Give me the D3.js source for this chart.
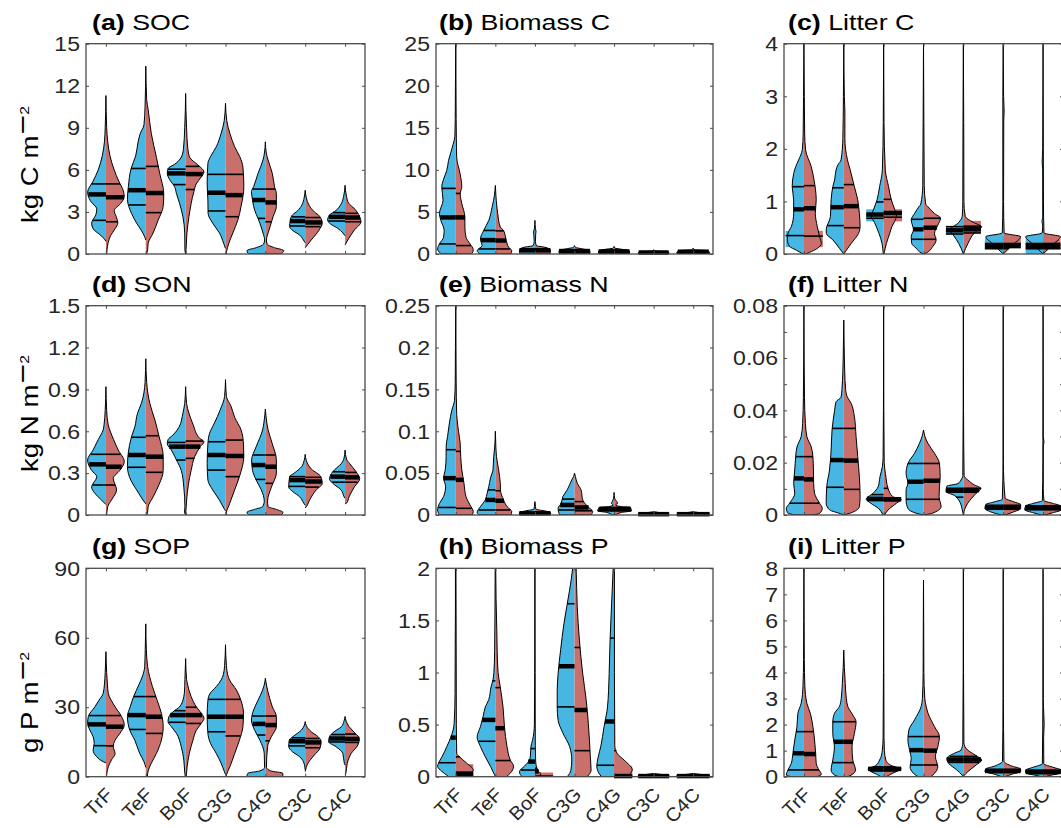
<!DOCTYPE html>
<html>
<head>
<meta charset="utf-8">
<script src="https://cdn.jsdelivr.net/npm/d3@7"></script>
<style>
  body { margin: 0; background: #fff; }
  text { font-family: "Liberation Sans", Arial, sans-serif; }
</style>
</head>
<body>
<div id="chart"></div>
<script>
// categories and panel text
const categories = ["TrF", "TeF", "BoF", "C3G", "C4G", "C3C", "C4C"];
const panelTitles = ["SOC", "Biomass C", "Litter C", "SON", "Biomass N", "Litter N", "SOP", "Biomass P", "Litter P"];
const panelLetters = ["(a)", "(b)", "(c)", "(d)", "(e)", "(f)", "(g)", "(h)", "(i)"];
const rowLabels = ["kg C m", "kg N m", "g P m"];

// y tick values for each panel
const socTicks = [0, 3, 6, 9, 12, 15];
const bioCTicks = [0, 5, 10, 15, 20, 25];
const litCTicks = [0, 1, 2, 3, 4];
const sonTicks = [0, 0.3, 0.6, 0.9, 1.2, 1.5];
const bioNTicks = [0, 0.05, 0.1, 0.15, 0.2, 0.25];
const litNTicks = [0, 0.02, 0.04, 0.06, 0.08];
const litNMinor = [0.01, 0.03, 0.05, 0.07];
const sopTicks = [0, 30, 60, 90];
const bioPTicks = [0, 0.5, 1, 1.5, 2];
const litPTicks = [0, 1, 2, 3, 4, 5, 6, 7, 8];

// violin profiles: [value, relative density] per category, left (blue) and right (red) halves
// quartiles: [q1, median, q3]

// (a) SOC
const socBlue = [
  [[11.3,0],[9,0.04],[8,0.08],[7,0.2],[6,0.42],[5.2,0.7],[4.4,1.0],[3.8,0.85],[3.2,0.5],[2.8,0.55],[2.2,0.78],[1.8,0.7],[1.4,0.35],[1.1,0.1],[0.9,0]],
  [[13.4,0],[10.5,0.04],[9.2,0.1],[8.6,0.3],[8.0,0.42],[7.0,0.55],[6.1,0.8],[4.8,0.95],[3.9,1.0],[2.9,0.78],[2.2,0.5],[1.7,0.25],[1.2,0.05],[1.0,0]],
  [[11.45,0],[9,0.05],[7.5,0.12],[6.9,0.24],[6.4,0.6],[6.1,0.96],[5.75,1.0],[5.3,0.87],[4.8,0.6],[4.3,0.5],[3.6,0.33],[2.66,0.15],[1.5,0.05],[0.3,0.04],[0,0]],
  [[10.75,0],[9.5,0.07],[8.6,0.24],[7.65,0.5],[6.94,0.82],[6.47,0.96],[5.0,1.0],[3.85,0.96],[2.9,0.95],[2.2,0.7],[1.5,0.33],[0.76,0.1],[0.4,0]],
  [[8.0,0],[7.2,0.05],[6.7,0.13],[5.75,0.4],[4.8,0.64],[4.45,0.76],[3.85,0.7],[3.1,0.58],[2.54,0.4],[2.2,0.3],[1.5,0.13],[1.0,0.04],[0.7,0.1],[0.45,0.5],[0.25,1.0],[0.05,0.95],[0,0.9]],
  [[4.55,0],[4.0,0.06],[3.5,0.18],[3.1,0.4],[2.78,0.7],[2.4,0.82],[1.95,0.85],[1.7,0.7],[1.35,0.3],[1.0,0.1],[0.8,0]],
  [[4.9,0],[4.1,0.08],[3.6,0.2],[3.1,0.5],[2.78,0.85],[2.42,0.95],[2.2,0.85],[1.83,0.4],[1.5,0.12],[1.3,0]]
];
const socRed = [
  [[11.3,0],[9,0.04],[8,0.1],[7,0.22],[6,0.45],[5.2,0.7],[4.5,0.95],[4.1,1.0],[3.6,0.8],[3.1,0.45],[2.7,0.55],[2.2,0.65],[1.8,0.5],[1.3,0.25],[0.8,0.12],[0.3,0.06],[0,0.04]],
  [[13.4,0],[11,0.05],[10.3,0.13],[8.6,0.3],[6.9,0.58],[5.75,0.76],[4.3,0.98],[3.4,0.95],[2.4,0.67],[1.5,0.4],[0.76,0.13],[0.3,0.1],[0,0.04]],
  [[11.45,0],[9,0.05],[7.5,0.12],[6.9,0.22],[6.35,0.67],[6.0,0.95],[5.85,1.0],[5.5,0.85],[5.0,0.58],[4.45,0.45],[3.6,0.3],[2.66,0.18],[1.5,0.07],[0.5,0.03],[0,0]],
  [[10.75,0],[9.5,0.07],[8.6,0.24],[7.65,0.5],[6.94,0.78],[6.2,0.95],[4.8,1.0],[3.4,0.85],[2.4,0.67],[1.5,0.4],[0.76,0.18],[0.2,0.06],[0,0.03]],
  [[8.0,0],[7.2,0.05],[6.7,0.15],[5.75,0.38],[4.8,0.5],[4.3,0.6],[3.4,0.6],[2.66,0.42],[1.7,0.2],[1.0,0.06],[0.7,0.1],[0.45,0.5],[0.25,1.0],[0.05,0.9],[0,0.85]],
  [[4.55,0],[4.0,0.06],[3.5,0.2],[3.0,0.5],[2.7,0.78],[2.2,0.93],[1.7,0.75],[1.0,0.33],[0.7,0.15],[0.45,0]],
  [[4.9,0],[4.1,0.08],[3.6,0.2],[3.35,0.42],[2.65,0.8],[2.3,0.87],[1.7,0.5],[1.0,0.15],[0.65,0]]
];
const socQBlue = [[2.4,4.25,5.0],[3.5,4.55,6.1],[4.95,5.75,6.05],[3.07,4.37,5.68],[2.54,3.85,4.63],[2.0,2.35,2.65],[2.35,2.65,2.95]];
const socQRed = [[2.3,4.05,5.0],[2.95,4.35,6.25],[4.6,5.7,6.25],[2.66,4.2,5.68],[2.3,3.68,4.63],[1.95,2.25,2.6],[2.3,2.6,2.9]];

// (b) Biomass C
const bioCBlue = [
  [[25,0],[20,0.02],[16,0.03],[14,0.05],[13,0.15],[11.1,0.4],[9.9,0.5],[8.9,0.67],[7.95,0.77],[6.4,0.7],[4.8,0.9],[4.0,0.82],[2.8,0.64],[2.0,0.67],[1.2,0.9],[0.6,1.0],[0.1,0.85],[0,0.8]],
  [[8.15,0],[7,0.05],[6.36,0.1],[5.56,0.18],[4.0,0.36],[2.8,0.64],[1.8,0.82],[1.0,0.73],[0.4,1.0],[0,0.85]],
  [[4.0,0],[3.0,0.03],[2.6,0.08],[2.3,0.06],[1.5,0.04],[1.0,0.1],[0.8,0.6],[0.5,0.85],[0.2,0.85],[0,0.8]],
  [[1.0,0],[0.8,0.05],[0.6,0.5],[0.4,0.85],[0.1,0.85],[0,0.8]],
  [[0.9,0],[0.7,0.05],[0.55,0.5],[0.35,0.85],[0.1,0.85],[0,0.8]],
  [[0.5,0],[0.35,0.1],[0.25,0.8],[0.1,0.85],[0,0.8]],
  [[0.7,0],[0.5,0.1],[0.4,0.8],[0.15,0.9],[0,0.85]]
];
const bioCRed = [
  [[25,0],[16,0.02],[11.5,0.05],[9.5,0.24],[8.0,0.33],[7.15,0.24],[6.0,0.33],[4.4,0.5],[3.2,0.5],[2.0,0.56],[1.2,0.78],[0.5,0.96],[0.1,0.9],[0,0.85]],
  [[8.15,0],[7,0.03],[6.36,0.05],[4.8,0.13],[3.2,0.27],[2.8,0.45],[1.6,0.6],[0.8,0.73],[0.4,0.9],[0,0.85]],
  [[4.0,0],[3.0,0.03],[2.7,0.06],[2.3,0.04],[1.5,0.03],[1.0,0.08],[0.8,0.55],[0.5,0.85],[0.2,0.85],[0,0.8]],
  [[1.0,0],[0.8,0.05],[0.6,0.45],[0.4,0.85],[0.1,0.85],[0,0.8]],
  [[0.9,0],[0.7,0.05],[0.55,0.45],[0.35,0.85],[0.1,0.85],[0,0.8]],
  [[0.5,0],[0.35,0.1],[0.25,0.8],[0.1,0.85],[0,0.8]],
  [[0.7,0],[0.5,0.1],[0.4,0.8],[0.15,0.9],[0,0.85]]
];
const bioCQBlue = [[1.2,4.35,7.8],[0.6,1.65,2.8],[0.3,0.45,0.6],[0.2,0.35,0.5],[0.2,0.3,0.45],[0.1,0.18,0.25],[0.15,0.27,0.38]];
const bioCQRed = [[1.0,4.35,7.2],[0.6,1.6,2.75],[0.3,0.45,0.6],[0.2,0.35,0.5],[0.2,0.3,0.45],[0.1,0.18,0.25],[0.15,0.27,0.38]];

// (c) Litter C
const litCBlue = [
  [[4,0],[3,0.02],[2.3,0.04],[1.98,0.09],[1.79,0.29],[1.66,0.45],[1.53,0.56],[1.28,0.64],[1.03,0.56],[0.77,0.56],[0.52,0.69],[0.39,0.87],[0.27,0.9],[0.15,0.8],[0.07,0.4],[0,0.05]],
  [[4,0],[3,0.02],[2.2,0.05],[1.79,0.15],[1.69,0.33],[1.6,0.42],[1.41,0.5],[1.28,0.6],[1.03,0.69],[0.71,0.73],[0.46,0.96],[0.39,0.95],[0.27,0.6],[0.11,0.24],[0,0]],
  [[4,0],[2.5,0.02],[1.6,0.07],[1.28,0.22],[1.03,0.36],[0.8,0.6],[0.72,0.67],[0.6,0.5],[0.52,0.4],[0.39,0.25],[0.2,0.09],[0,0.02]],
  [[4,0],[2.5,0.02],[1.3,0.04],[0.95,0.15],[0.9,0.25],[0.77,0.49],[0.65,0.67],[0.46,0.55],[0.33,0.67],[0.2,0.64],[0.11,0.4],[0.02,0.12],[0,0]],
  [[4,0],[2.5,0.02],[1.0,0.03],[0.72,0.06],[0.6,0.25],[0.45,0.75],[0.36,0.55],[0.2,0.25],[0,0]],
  [[4,0],[3,0.02],[1,0.02],[0.4,0.05],[0.33,0.95],[0.2,0.6],[0.1,0.3],[0,0]],
  [[4,0],[2,0.02],[1.75,0.05],[1.6,0.02],[0.7,0.02],[0.62,0.06],[0.55,0.02],[0.4,0.05],[0.33,0.95],[0.2,0.6],[0.1,0.3],[0,0]]
];
const litCRed = [
  [[4,0],[3,0.02],[2.3,0.04],[1.98,0.09],[1.66,0.4],[1.41,0.55],[1.03,0.67],[0.77,0.62],[0.52,0.73],[0.33,0.85],[0.2,0.95],[0.1,0.7],[0.03,0.3],[0,0.1]],
  [[4,0],[3,0.03],[2.7,0.06],[2.2,0.06],[1.79,0.2],[1.6,0.35],[1.28,0.58],[1.03,0.76],[0.77,0.85],[0.52,0.89],[0.39,0.8],[0.2,0.4],[0.05,0.1],[0,0]],
  [[4,0],[2.5,0.02],[1.6,0.09],[1.28,0.27],[1.03,0.42],[0.85,0.6],[0.75,0.7],[0.62,0.6],[0.52,0.45],[0.39,0.33],[0.2,0.15],[0,0.02]],
  [[4,0],[2.5,0.02],[1.3,0.04],[0.95,0.12],[0.9,0.24],[0.77,0.6],[0.68,0.93],[0.55,0.78],[0.39,0.6],[0.27,0.69],[0.14,0.5],[0.02,0.15],[0,0]],
  [[4,0],[2.5,0.02],[1.0,0.03],[0.72,0.1],[0.6,0.55],[0.52,1.0],[0.4,0.6],[0.2,0.25],[0,0]],
  [[4,0],[3,0.02],[2.7,0.05],[2.55,0.03],[1,0.02],[0.4,0.05],[0.33,0.95],[0.2,0.6],[0.1,0.3],[0,0]],
  [[4,0],[1,0.02],[0.4,0.05],[0.33,0.95],[0.2,0.6],[0.1,0.3],[0,0]]
];
const litCQBlue = [[0.35,0.85,1.28],[0.54,0.89,1.26],[0.68,0.75,0.99],[0.28,0.47,0.66],[0.38,0.45,0.52],[0.1,0.15,0.2],[0.1,0.15,0.2]];
const litCQRed = [[0.34,0.87,1.3],[0.5,0.91,1.32],[0.7,0.78,1.04],[0.28,0.5,0.68],[0.4,0.47,0.53],[0.1,0.15,0.2],[0.1,0.15,0.2]];
// filled blocks at the base: [category, side, low, high, relative width]
const litCBoxes = [[0,"b",0.13,0.44,1.0],[0,"r",0.13,0.44,1.03],[2,"b",0.62,0.85,0.95],[2,"r",0.62,0.85,1.0],[4,"b",0.38,0.53,0.95],[4,"r",0.4,0.63,0.96],[5,"b",0.1,0.3,1.0],[5,"r",0.15,0.33,0.96],[6,"b",0,0.3,0.95],[6,"r",0.1,0.28,0.95]];

// (d) SON
const sonBlue = [
  [[0.92,0],[0.75,0.04],[0.65,0.1],[0.61,0.15],[0.54,0.42],[0.466,0.7],[0.394,1.0],[0.32,0.78],[0.275,0.5],[0.2,0.78],[0.155,0.6],[0.107,0.24],[0.075,0]],
  [[1.12,0],[0.95,0.04],[0.8,0.24],[0.73,0.45],[0.63,0.6],[0.56,0.78],[0.44,0.96],[0.346,1.0],[0.25,0.82],[0.18,0.5],[0.107,0.15],[0.08,0]],
  [[0.92,0],[0.8,0.05],[0.73,0.15],[0.63,0.36],[0.573,0.69],[0.54,0.96],[0.51,1.0],[0.466,0.78],[0.394,0.5],[0.32,0.24],[0.2,0.1],[0.06,0.04],[0.02,0.06],[0,0]],
  [[0.97,0],[0.85,0.05],[0.75,0.3],[0.66,0.6],[0.585,0.87],[0.51,0.96],[0.37,1.0],[0.25,0.96],[0.18,0.7],[0.107,0.33],[0.04,0.05],[0.03,0]],
  [[0.76,0],[0.66,0.08],[0.61,0.15],[0.49,0.5],[0.394,0.75],[0.32,0.7],[0.25,0.5],[0.18,0.22],[0.1,0.06],[0.06,0.15],[0.04,0.6],[0.02,1.0],[0.005,0.95],[0,0.9]],
  [[0.435,0],[0.39,0.06],[0.346,0.2],[0.3,0.6],[0.275,0.85],[0.2,0.9],[0.167,0.67],[0.13,0.3],[0.085,0.08],[0.07,0]],
  [[0.465,0],[0.4,0.07],[0.37,0.2],[0.31,0.67],[0.26,0.85],[0.227,0.67],[0.18,0.22],[0.13,0.05],[0.12,0]]
];
const sonRed = [
  [[0.92,0],[0.75,0.04],[0.65,0.12],[0.54,0.42],[0.466,0.67],[0.383,1.0],[0.32,0.76],[0.263,0.4],[0.18,0.58],[0.107,0.3],[0.06,0.1],[0,0.04]],
  [[1.12,0],[0.95,0.05],[0.8,0.22],[0.68,0.5],[0.56,0.73],[0.42,0.95],[0.32,0.95],[0.22,0.73],[0.13,0.4],[0.06,0.13],[0.02,0.1],[0,0.05]],
  [[0.92,0],[0.8,0.05],[0.73,0.18],[0.65,0.4],[0.55,0.76],[0.525,1.0],[0.49,0.8],[0.42,0.5],[0.32,0.3],[0.22,0.15],[0.1,0.05],[0,0]],
  [[0.97,0],[0.85,0.05],[0.78,0.3],[0.7,0.5],[0.61,0.85],[0.51,0.98],[0.42,1.0],[0.275,0.76],[0.18,0.5],[0.08,0.22],[0.02,0.05],[0,0.03]],
  [[0.76,0],[0.66,0.08],[0.61,0.15],[0.51,0.38],[0.394,0.6],[0.3,0.6],[0.2,0.33],[0.1,0.12],[0.06,0.15],[0.04,0.6],[0.02,0.96],[0.005,0.9],[0,0.85]],
  [[0.435,0],[0.39,0.06],[0.33,0.33],[0.275,0.85],[0.225,0.93],[0.18,0.6],[0.11,0.25],[0.06,0.06],[0.05,0]],
  [[0.465,0],[0.4,0.08],[0.37,0.24],[0.31,0.6],[0.26,0.8],[0.2,0.5],[0.13,0.22],[0.085,0.08],[0.08,0]]
];
const sonQBlue = [[0.215,0.363,0.435],[0.342,0.43,0.557],[0.394,0.49,0.52],[0.322,0.43,0.525],[0.255,0.358,0.43],[0.205,0.25,0.275],[0.235,0.275,0.31]];
const sonQRed = [[0.215,0.346,0.435],[0.306,0.418,0.568],[0.406,0.49,0.53],[0.275,0.423,0.537],[0.227,0.346,0.43],[0.2,0.24,0.27],[0.235,0.27,0.305]];

// (e) Biomass N
const bioNBlue = [
  [[0.25,0],[0.2,0.02],[0.16,0.03],[0.137,0.07],[0.125,0.22],[0.11,0.35],[0.094,0.45],[0.082,0.53],[0.07,0.53],[0.054,0.58],[0.044,0.67],[0.034,0.56],[0.022,0.67],[0.014,0.89],[0.006,1.0],[0,0.9]],
  [[0.1,0],[0.08,0.04],[0.07,0.09],[0.054,0.13],[0.044,0.27],[0.034,0.36],[0.026,0.45],[0.018,0.55],[0.01,0.82],[0.003,1.0],[0,0.9]],
  [[0.016,0],[0.01,0.03],[0.007,0.05],[0.005,0.5],[0.003,0.85],[0.001,0.85],[0,0.8]],
  [[0.05,0],[0.046,0.05],[0.042,0.15],[0.03,0.4],[0.022,0.64],[0.014,0.73],[0.008,0.9],[0.002,0.85],[0,0.8]],
  [[0.027,0],[0.02,0.03],[0.016,0.1],[0.014,0.15],[0.012,0.05],[0.01,0.3],[0.009,0.8],[0.005,0.9],[0.003,0.4],[0,0.1]],
  [[0.004,0],[0.003,0.3],[0.002,0.8],[0.001,0.85],[0,0.8]],
  [[0.004,0],[0.003,0.3],[0.002,0.85],[0.001,0.9],[0,0.85]]
];
const bioNRed = [
  [[0.25,0],[0.16,0.02],[0.12,0.05],[0.1,0.15],[0.086,0.24],[0.07,0.27],[0.054,0.33],[0.038,0.45],[0.022,0.56],[0.012,0.78],[0.004,0.96],[0,0.9]],
  [[0.1,0],[0.08,0.03],[0.07,0.06],[0.054,0.18],[0.038,0.27],[0.03,0.28],[0.018,0.45],[0.01,0.64],[0.004,0.9],[0,0.85]],
  [[0.016,0],[0.01,0.03],[0.007,0.05],[0.005,0.5],[0.003,0.85],[0.001,0.85],[0,0.8]],
  [[0.05,0],[0.046,0.05],[0.038,0.15],[0.03,0.36],[0.018,0.45],[0.01,0.73],[0.004,1.0],[0,0.9]],
  [[0.027,0],[0.02,0.03],[0.016,0.15],[0.014,0.2],[0.012,0.08],[0.01,0.4],[0.009,0.9],[0.005,0.95],[0.003,0.4],[0,0.1]],
  [[0.004,0],[0.003,0.3],[0.002,0.8],[0.001,0.85],[0,0.8]],
  [[0.004,0],[0.003,0.3],[0.002,0.85],[0.001,0.9],[0,0.85]]
];
const bioNQBlue = [[0.009,0.044,0.078],[0.006,0.018,0.03],[0.001,0.002,0.003],[0.006,0.012,0.019],[0.005,0.007,0.009],[0.0005,0.001,0.0015],[0.0005,0.001,0.0015]];
const bioNQRed = [[0.008,0.042,0.076],[0.006,0.017,0.029],[0.001,0.002,0.003],[0.005,0.009,0.016],[0.005,0.007,0.009],[0.0005,0.001,0.0015],[0.0005,0.001,0.0015]];

// (f) Litter N
const litNBlue = [
  [[0.08,0],[0.06,0.01],[0.045,0.03],[0.035,0.07],[0.03,0.15],[0.026,0.38],[0.0223,0.45],[0.0172,0.5],[0.0121,0.56],[0.0083,0.5],[0.0045,0.78],[0.0025,0.96],[0.0009,0.9],[0,0.5]],
  [[0.0745,0],[0.065,0.02],[0.055,0.05],[0.048,0.1],[0.045,0.15],[0.0433,0.42],[0.04,0.5],[0.0325,0.64],[0.0248,0.69],[0.0172,0.78],[0.0108,0.93],[0.0045,0.96],[0.002,0.78],[0.0003,0.1],[0,0]],
  [[0.08,0],[0.04,0.01],[0.022,0.03],[0.0185,0.07],[0.0146,0.2],[0.0108,0.3],[0.0083,0.58],[0.006,0.95],[0.0045,0.7],[0.0025,0.28],[0,0.04]],
  [[0.0325,0],[0.03,0.08],[0.0274,0.22],[0.0236,0.49],[0.0197,0.85],[0.0159,0.95],[0.0121,0.85],[0.0096,0.95],[0.0057,0.95],[0.0025,0.85],[0.0005,0.3],[0,0]],
  [[0.08,0],[0.04,0.01],[0.015,0.03],[0.0134,0.13],[0.012,0.3],[0.011,0.9],[0.009,0.95],[0.0075,0.5],[0.0057,0.25],[0.002,0.06],[0,0]],
  [[0.08,0],[0.02,0.01],[0.006,0.05],[0.005,0.5],[0.004,0.95],[0.0025,1.0],[0.001,0.6],[0,0.1]],
  [[0.08,0],[0.02,0.01],[0.0055,0.04],[0.0045,0.5],[0.0035,0.95],[0.002,1.0],[0.0008,0.5],[0,0.1]]
];
const litNRed = [
  [[0.08,0],[0.06,0.01],[0.045,0.03],[0.035,0.08],[0.03,0.16],[0.026,0.4],[0.0223,0.49],[0.0172,0.52],[0.0121,0.53],[0.0083,0.58],[0.0045,0.85],[0.0025,1.0],[0.0006,0.85],[0,0.5]],
  [[0.0745,0],[0.065,0.02],[0.055,0.05],[0.048,0.1],[0.045,0.2],[0.0427,0.4],[0.0375,0.58],[0.03,0.67],[0.0223,0.76],[0.0146,0.85],[0.007,0.89],[0.0032,0.85],[0.0006,0.3],[0,0]],
  [[0.08,0],[0.04,0.01],[0.02,0.03],[0.0158,0.1],[0.0102,0.24],[0.007,0.5],[0.006,0.96],[0.0045,0.7],[0.0019,0.24],[0,0.05]],
  [[0.0325,0],[0.03,0.08],[0.0274,0.24],[0.0236,0.6],[0.0197,0.87],[0.0146,0.91],[0.0108,0.87],[0.007,0.85],[0.0032,0.96],[0.0006,0.45],[0,0]],
  [[0.08,0],[0.04,0.01],[0.015,0.04],[0.0134,0.24],[0.0115,0.6],[0.0102,0.96],[0.0083,0.7],[0.0045,0.24],[0.002,0.06],[0,0]],
  [[0.08,0],[0.02,0.01],[0.0065,0.1],[0.005,0.6],[0.004,0.95],[0.0025,0.95],[0.001,0.5],[0,0.1]],
  [[0.08,0],[0.03,0.01],[0.028,0.05],[0.026,0.01],[0.01,0.01],[0.0055,0.05],[0.0045,0.5],[0.0035,0.95],[0.002,1.0],[0.0008,0.5],[0,0.1]]
];
const litNQBlue = [[0.0045,0.014,0.0223],[0.0106,0.021,0.0331],[0.0055,0.0062,0.0078],[0.006,0.0127,0.0197],[0.0068,0.0093,0.0102],[0.0022,0.003,0.0037],[0.002,0.0028,0.0035]];
const litNQRed = [[0.0045,0.0136,0.0223],[0.0098,0.0208,0.0331],[0.0055,0.006,0.0102],[0.006,0.0131,0.0197],[0.0087,0.0095,0.0102],[0.0022,0.003,0.0037],[0.002,0.0028,0.0035]];

// (g) SOP
const sopBlue = [
  [[54,0],[45,0.04],[40,0.08],[36,0.15],[33,0.38],[30.2,0.6],[26,0.96],[23,1.0],[20,0.87],[17.3,0.7],[14.4,0.64],[11.5,0.7],[8.6,0.5],[6.5,0.15],[6,0]],
  [[66,0],[55,0.03],[47.5,0.06],[43,0.2],[40,0.36],[34.5,0.67],[30.2,0.85],[26,1.0],[20,0.87],[15.8,0.6],[10,0.33],[6.5,0.1],[4,0]],
  [[51,0],[42,0.04],[36,0.07],[34.6,0.1],[30.2,0.33],[28,0.69],[26,0.91],[23.8,0.96],[21.6,0.78],[18.7,0.5],[13,0.24],[7.2,0.1],[2,0.05],[0,0.02]],
  [[57,0],[48,0.05],[44,0.12],[41.8,0.24],[38.9,0.5],[36,0.84],[33,0.96],[26,1.0],[18.7,0.96],[14.4,0.82],[10,0.5],[5.8,0.24],[2,0.05],[1,0]],
  [[42.5,0],[40,0.05],[37.4,0.15],[33,0.4],[28.8,0.64],[24.5,0.76],[20,0.58],[15.8,0.3],[10,0.06],[4,0.04],[2.5,0.3],[1.5,0.95],[0.5,1.0],[0,0.95]],
  [[23.8,0],[22,0.06],[20.2,0.2],[17.3,0.67],[15.8,0.87],[13,0.9],[10.8,0.7],[8.6,0.3],[6.5,0.1],[2.9,0]],
  [[26,0],[24,0.06],[21.6,0.2],[19.4,0.6],[17.3,0.85],[15.1,0.9],[13,0.5],[10,0.12],[5.8,0.04],[5,0]]
];
const sopRed = [
  [[54,0],[45,0.04],[40,0.08],[36,0.13],[30.2,0.5],[26,0.85],[22.3,1.0],[18.7,0.76],[15.8,0.5],[13,0.4],[10,0.5],[7.2,0.3],[4.3,0.13],[2,0.06],[0,0.03]],
  [[66,0],[55,0.03],[47.5,0.1],[39,0.36],[33,0.62],[27.4,0.85],[21.6,0.95],[15.8,0.85],[10,0.58],[5.8,0.3],[2.5,0.13],[0,0.08]],
  [[51,0],[42,0.05],[40,0.1],[34.6,0.3],[30.2,0.58],[27.4,0.85],[25.2,1.0],[23,0.85],[20,0.58],[15.8,0.4],[10,0.2],[4.3,0.08],[0,0.03]],
  [[57,0],[48,0.05],[44,0.12],[41.8,0.22],[37.4,0.6],[33,0.84],[27.4,0.98],[21.6,0.95],[15.8,0.76],[10,0.5],[4.3,0.24],[1,0.06],[0,0.03]],
  [[42.5,0],[40,0.05],[37.4,0.12],[30.2,0.38],[25.9,0.6],[21.6,0.6],[17.3,0.33],[13,0.12],[4,0.06],[2.5,0.3],[1.5,0.95],[0.5,0.95],[0,0.9]],
  [[23.8,0],[22,0.06],[19.4,0.33],[17.3,0.7],[15.1,0.87],[12.2,0.8],[9.4,0.5],[5.8,0.15],[2.2,0]],
  [[26,0],[24,0.06],[21.6,0.22],[18.7,0.56],[16.5,0.78],[13.7,0.7],[10,0.33],[5.8,0.12],[1.5,0.04],[1,0]]
];
const sopQBlue = [[13.4,22.6,26.4],[20.4,26.6,34.6],[23.5,26.6,28.5],[19.4,25.9,33.4],[18,22.8,26.2],[13.3,15.3,16.8],[15,16.5,18.2]];
const sopQRed = [[13.3,21.6,26.4],[18.7,25.9,34.6],[23,26.6,30],[17.6,25.9,33.4],[15.5,22.3,26.2],[12.5,14.8,16.5],[14.8,16.3,18.4]];

// (h) Biomass P
const bioPBlue = [
  [[2.3,0],[2,0.02],[1.6,0.02],[1.3,0.03],[0.8,0.04],[0.51,0.09],[0.38,0.27],[0.29,0.49],[0.19,0.76],[0.13,0.95],[0.1,1.0],[0.05,0.76],[0.015,0.5],[0,0.4]],
  [[2.3,0],[2,0.01],[1.6,0.02],[1.2,0.04],[1.0,0.08],[0.93,0.13],[0.86,0.24],[0.74,0.36],[0.67,0.55],[0.58,0.67],[0.48,0.82],[0.38,1.0],[0.29,0.82],[0.19,0.55],[0.1,0.27],[0.02,0.05],[0,0]],
  [[2.3,0],[1,0.01],[0.5,0.03],[0.35,0.13],[0.29,0.22],[0.2,0.25],[0.16,0.3],[0.1,0.58],[0.05,0.85],[0.02,0.8],[0,0.7]],
  [[2.3,0],[2.1,0.05],[2,0.1],[1.79,0.27],[1.47,0.58],[1.22,0.76],[0.99,0.9],[0.83,0.95],[0.67,0.95],[0.54,0.9],[0.42,0.64],[0.29,0.27],[0.16,0.15],[0.06,0.2],[0,0.4]],
  [[2.3,0],[2,0.05],[1.6,0.15],[1.31,0.22],[0.99,0.27],[0.67,0.36],[0.48,0.55],[0.29,0.73],[0.19,0.87],[0.1,0.95],[0.03,0.82],[0,0.7]],
  [[0.03,0],[0.02,0.5],[0.01,0.85],[0,0.85]],
  [[0.03,0],[0.02,0.5],[0.01,0.9],[0,0.9]]
];
const bioPRed = [
  [[2.3,0],[2,0.01],[1.3,0.02],[0.5,0.03],[0.22,0.05],[0.2,0.15],[0.13,0.6],[0.064,0.96],[0.03,0.8],[0,0.6]],
  [[2.3,0],[2,0.02],[1.7,0.04],[1.4,0.08],[1.2,0.1],[1.0,0.15],[0.86,0.27],[0.67,0.42],[0.48,0.5],[0.29,0.64],[0.16,0.82],[0.1,1.0],[0.03,0.8],[0,0.6]],
  [[2.3,0],[1,0.01],[0.3,0.02],[0.15,0.04],[0.064,0.15],[0.03,0.3],[0,0.3]],
  [[2.3,0],[2,0.09],[1.63,0.15],[1.31,0.27],[0.99,0.45],[0.74,0.64],[0.51,0.76],[0.35,0.82],[0.19,0.87],[0.064,0.91],[0.02,0.8],[0,0.7]],
  [[2.3,0],[2,0.02],[1,0.02],[0.3,0.04],[0.22,0.18],[0.16,0.55],[0.064,1.0],[0.03,0.9],[0,0.85]],
  [[0.03,0],[0.02,0.5],[0.01,0.85],[0,0.85]],
  [[0.03,0],[0.02,0.5],[0.01,0.9],[0,0.9]]
];
const bioPQBlue = [[0.134,0.375,1.3],[0.34,0.545,0.92],[0.064,0.145,0.27],[0.67,1.06,1.66],[0.11,0.53,1.33],[0.003,0.006,0.01],[0.003,0.006,0.01]];
const bioPQRed = [[0.005,0.03,0.19],[0.155,0.465,0.855],[0.006,0.05,0.08],[0.25,0.64,1.24],[0.002,0.006,0.25],[0.003,0.006,0.01],[0.003,0.006,0.01]];
const bioPBoxes = [[0,"r",0,0.12,0.96],[2,"r",0,0.04,1.0],[4,"r",0,0.1,1.0]];

// (i) Litter P
const litPBlue = [
  [[8,0],[6,0.01],[4.5,0.02],[3.5,0.05],[2.82,0.15],[2.43,0.33],[1.92,0.38],[1.41,0.5],[0.9,0.6],[0.51,0.69],[0.26,0.87],[0.06,0.96],[0,0.7]],
  [[4.86,0],[4.2,0.03],[3.58,0.08],[3,0.14],[2.69,0.24],[2.43,0.51],[2.1,0.6],[1.66,0.6],[1.15,0.51],[0.64,0.6],[0.26,0.69],[0.06,0.5],[0,0.25]],
  [[8,0],[4,0.01],[1.5,0.03],[1.02,0.07],[0.64,0.22],[0.42,0.45],[0.3,0.85],[0.2,0.7],[0.1,0.4],[0,0.15]],
  [[7.55,0],[6,0.01],[4,0.02],[3,0.06],[2.69,0.13],[2.18,0.49],[1.79,0.8],[1.41,0.85],[1.02,0.76],[0.7,0.67],[0.38,0.73],[0.13,0.55],[0,0.3]],
  [[8,0],[4,0.01],[1.3,0.03],[1.02,0.13],[0.9,0.49],[0.7,0.91],[0.51,0.8],[0.26,0.36],[0.06,0.07],[0,0]],
  [[8,0],[3,0.01],[0.6,0.04],[0.4,0.5],[0.3,0.95],[0.2,1.0],[0.1,0.5],[0,0.1]],
  [[8,0],[3,0.01],[0.5,0.04],[0.35,0.6],[0.25,0.95],[0.15,0.95],[0.05,0.4],[0,0.1]]
];
const litPRed = [
  [[8,0],[6,0.01],[4.5,0.02],[3.5,0.05],[2.82,0.16],[2.43,0.35],[1.92,0.49],[1.41,0.58],[0.9,0.64],[0.51,0.67],[0.26,0.82],[0.09,0.95],[0,0.7]],
  [[4.86,0],[4.2,0.03],[3.58,0.08],[3,0.14],[2.69,0.22],[2.37,0.49],[2.1,0.67],[1.66,0.58],[1.15,0.45],[0.64,0.49],[0.26,0.64],[0.06,0.4],[0,0.2]],
  [[8,0],[4,0.01],[1.5,0.02],[1.0,0.04],[0.64,0.12],[0.42,0.45],[0.3,0.96],[0.2,0.7],[0.1,0.4],[0,0.15]],
  [[7.55,0],[6,0.01],[4,0.02],[3,0.07],[2.69,0.15],[2.43,0.25],[1.92,0.6],[1.54,0.87],[1.15,0.78],[0.77,0.65],[0.38,0.78],[0.13,0.6],[0,0.4]],
  [[8,0],[4,0.01],[1.3,0.03],[1.02,0.24],[0.77,0.78],[0.64,1.0],[0.45,0.7],[0.19,0.24],[0.05,0.05],[0,0]],
  [[8,0],[3,0.01],[0.6,0.04],[0.4,0.5],[0.3,0.95],[0.2,0.95],[0.1,0.5],[0,0.1]],
  [[8,0],[3,0.01],[2.4,0.04],[2.0,0.06],[1.5,0.03],[0.5,0.04],[0.35,0.6],[0.25,1.0],[0.15,0.95],[0.05,0.4],[0,0.1]]
];
const litPQBlue = [[0.26,0.9,1.73],[0.54,1.34,2.11],[0.22,0.3,0.38],[0.45,1.02,1.54],[0.55,0.66,0.78],[0.16,0.22,0.28],[0.12,0.18,0.25]];
const litPQRed = [[0.26,0.87,1.73],[0.54,1.34,2.11],[0.22,0.3,0.38],[0.45,1.0,1.54],[0.55,0.66,0.78],[0.16,0.22,0.28],[0.12,0.18,0.25]];

// panel table built from the arrays above
const panels = [
  [socBlue, socRed, socQBlue, socQRed, [], socTicks, []],
  [bioCBlue, bioCRed, bioCQBlue, bioCQRed, [], bioCTicks, []],
  [litCBlue, litCRed, litCQBlue, litCQRed, litCBoxes, litCTicks, []],
  [sonBlue, sonRed, sonQBlue, sonQRed, [], sonTicks, []],
  [bioNBlue, bioNRed, bioNQBlue, bioNQRed, [], bioNTicks, []],
  [litNBlue, litNRed, litNQBlue, litNQRed, [], litNTicks, litNMinor],
  [sopBlue, sopRed, sopQBlue, sopQRed, [], sopTicks, []],
  [bioPBlue, bioPRed, bioPQBlue, bioPQRed, bioPBoxes, bioPTicks, []],
  [litPBlue, litPRed, litPQBlue, litPQRed, [], litPTicks, []]
];

// layout
const colLeft = [86, 436, 784];
const colWidth = [279, 277, 279];
const rowTop = [43.7, 305.7, 568.3];
const rowBottom = [254, 515, 776.7];
const titleX = [92, 439, 788];
const labelBottom = [223, 472, 753];
const blue = "#48b6e3";
const red = "#c9706d";
const axisColor = "#262626";
const frameColor = "#4a4a4a";
// the original lettering runs wider than Liberation Sans
const tickStretch = 1.1;
const catStretch = 1.06;
const titleStretch = 1.19;
const labelStretch = 1.2;

const svg = d3.select("#chart").append("svg")
  .attr("width", 1061)
  .attr("height", 828);

// width of a half violin at a value (linear between knots, widened by base blocks)
function widthAt(prof, boxes, v) {
  const pts = prof.slice().sort((a, b) => a[0] - b[0]);
  let w = 0;
  if (v <= pts[0][0]) w = pts[0][1];
  else if (v >= pts[pts.length - 1][0]) w = pts[pts.length - 1][1];
  else {
    for (let k = 1; k < pts.length; k++) {
      if (v <= pts[k][0]) {
        const t = (v - pts[k - 1][0]) / (pts[k][0] - pts[k - 1][0]);
        w = pts[k - 1][1] + t * (pts[k][1] - pts[k - 1][1]);
        break;
      }
    }
  }
  boxes.forEach(b => { if (v >= b[0] && v <= b[1]) w = Math.max(w, b[2]); });
  return w;
}

panels.forEach((p, i) => {
  const [blueProf, redProf, qBlue, qRed, boxes, ticks, minor] = p;
  const r = Math.floor(i / 3), c = i % 3;
  const left = colLeft[c], width = colWidth[c], top = rowTop[r], bottom = rowBottom[r];

  const x = d3.scalePoint().domain(categories).range([left, left + width]).padding(0.5);
  const y = d3.scaleLinear().domain([0, d3.max(ticks)]).range([bottom, top]);
  const hw = d3.scaleLinear().domain([0, 1]).range([0, x.step() * 0.46]);

  const g = svg.append("g").attr("class", "panel" + i);

  // 剪裁区域
  svg.append("clipPath").attr("id", "clip" + i)
    .append("rect")
    .attr("x", left).attr("y", top)
    .attr("width", width).attr("height", bottom - top);

  const vg = g.append("g").attr("clip-path", `url(#clip${i})`);
  const boxLayer = vg.append("g");
  const fillLayer = vg.append("g");
  const edgeLayer = vg.append("g");
  const qLayer = g.append("g");

  const sides = [
    { prof: blueProf, q: qBlue, dir: -1, color: blue, key: "b" },
    { prof: redProf, q: qRed, dir: 1, color: red, key: "r" }
  ];

  categories.forEach((cat, j) => {
    const cx = x(cat);
    sides.forEach(s => {
      const pts = s.prof[j].slice().sort((a, b) => b[0] - a[0]);
      const myBoxes = boxes.filter(b => b[0] === j && b[1] === s.key).map(b => [b[2], b[3], b[4]]);

      // base blocks
      myBoxes.forEach(b => {
        const bx = s.dir < 0 ? cx - hw(b[2]) : cx;
        boxLayer.append("rect")
          .attr("x", bx).attr("y", y(b[1]))
          .attr("width", hw(b[2])).attr("height", y(b[0]) - y(b[1]))
          .attr("fill", s.color);
      });

      const area = d3.area()
        .curve(d3.curveMonotoneY)
        .y(d => y(d[0]))
        .x0(cx)
        .x1(d => cx + s.dir * hw(d[1]));
      fillLayer.append("path").attr("d", area(pts)).attr("fill", s.color);

      const line = d3.line()
        .curve(d3.curveMonotoneY)
        .x(d => cx + s.dir * hw(d[1]))
        .y(d => y(d[0]));
      edgeLayer.append("path").attr("d", line(pts))
        .attr("fill", "none").attr("stroke", "#000").attr("stroke-width", 1);
      [pts[0], pts[pts.length - 1]].forEach(e => {
        if (e[1] > 0) {
          edgeLayer.append("line")
            .attr("x1", cx).attr("x2", cx + s.dir * hw(e[1]))
            .attr("y1", y(e[0])).attr("y2", y(e[0]))
            .attr("stroke", "#000").attr("stroke-width", 1);
        }
      });

      // quartile and median lines
      s.q[j].forEach((v, k) => {
        const w = widthAt(s.prof[j], myBoxes, v);
        qLayer.append("line")
          .attr("x1", cx).attr("x2", cx + s.dir * hw(w))
          .attr("y1", y(v)).attr("y2", y(v))
          .attr("stroke", "#000")
          .attr("stroke-width", k === 1 ? 4.5 : 1.6);
      });
    });
  });

  // axes box
  g.append("rect")
    .attr("x", left).attr("y", top)
    .attr("width", width).attr("height", bottom - top)
    .attr("fill", "none").attr("stroke", frameColor).attr("stroke-width", 1.3);

  const styleAxis = sel => {
    sel.select(".domain").remove();
    sel.selectAll(".tick line").attr("stroke", frameColor).attr("stroke-width", 1);
    sel.selectAll(".tick text")
      .attr("fill", axisColor)
      .attr("x", null)
      .attr("transform", `translate(-6,0) scale(${tickStretch},1)`)
      .style("font-size", "21px")
      .style("font-family", "'Liberation Sans', Arial, sans-serif");
  };

  g.append("g").attr("transform", `translate(${left},0)`)
    .call(d3.axisLeft(y).tickValues(ticks).tickSize(-3).tickPadding(6).tickFormat(d => String(d)))
    .call(styleAxis);
  g.append("g").attr("transform", `translate(${left + width},0)`)
    .call(d3.axisRight(y).tickValues(ticks.concat(minor)).tickSize(-3).tickFormat(""))
    .call(styleAxis);
  if (minor.length) {
    g.append("g").attr("transform", `translate(${left},0)`)
      .call(d3.axisLeft(y).tickValues(minor).tickSize(-3).tickFormat(""))
      .call(styleAxis);
  }
  g.append("g").attr("transform", `translate(0,${bottom})`)
    .call(d3.axisBottom(x).tickSize(-3).tickFormat(""))
    .call(styleAxis);
  g.append("g").attr("transform", `translate(0,${top})`)
    .call(d3.axisTop(x).tickSize(-3).tickFormat(""))
    .call(styleAxis);

  // category labels on the bottom row
  if (r === 2) {
    g.selectAll("text.cat").data(categories).enter()
      .append("text")
      .attr("class", "cat")
      .attr("transform", d => `translate(${x(d) + 8},${bottom + 19}) rotate(-45) scale(${catStretch},1)`)
      .attr("text-anchor", "end")
      .attr("fill", axisColor)
      .style("font-size", "19px")
      .text(d => d);
  }

  // panel title
  const t = g.append("text")
    .attr("transform", `translate(${titleX[c]},${top - 14}) scale(${titleStretch},1)`)
    .attr("fill", "#000")
    .style("font-size", "22.5px");
  t.append("tspan").style("font-weight", "bold").text(panelLetters[i]);
  t.append("tspan").text(" " + panelTitles[i]);

  // y label per row
  if (c === 0) {
    const lab = g.append("text")
      .attr("transform", `translate(38,${labelBottom[r]}) rotate(-90) scale(${labelStretch},1)`)
      .attr("text-anchor", "start")
      .attr("fill", "#000")
      .style("font-size", "23px");
    lab.append("tspan").text(rowLabels[r]);
    lab.append("tspan").attr("dy", -5.6).attr("dx", 1).style("font-size", "28px").text("−");
    lab.append("tspan").attr("dy", -3.9).style("font-size", "13px").text("2");
  }
});
</script>
</body>
</html>
